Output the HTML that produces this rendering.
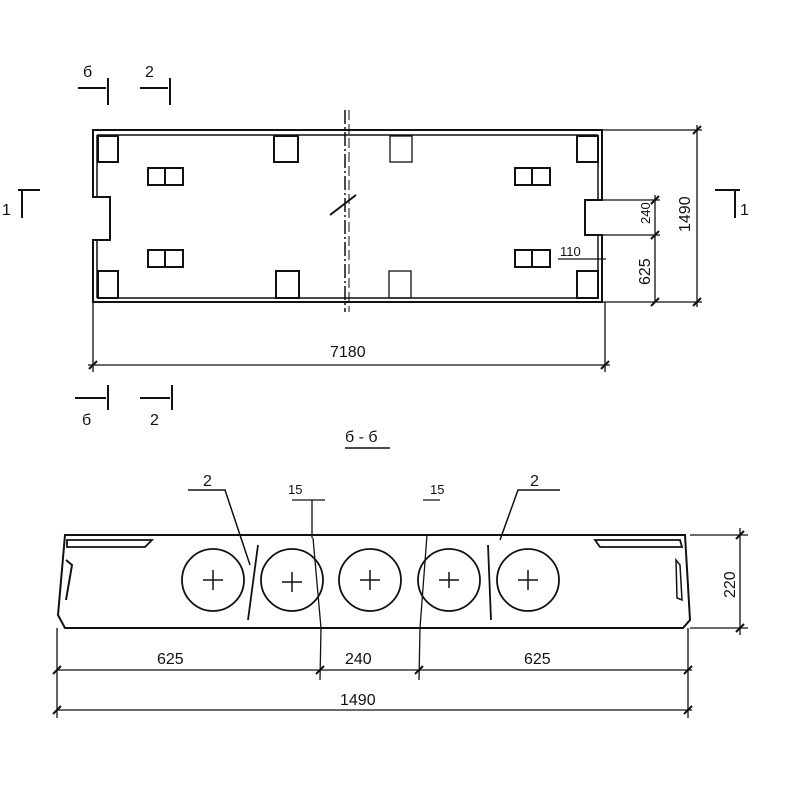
<!DOCTYPE html>
<html><head><meta charset="utf-8"><style>body{margin:0;background:#fff}svg{display:block}text{font-family:"Liberation Sans",sans-serif;fill:#111}</style></head><body>
<svg width="800" height="800" viewBox="0 0 800 800" xmlns="http://www.w3.org/2000/svg">
<g stroke="#111" fill="none" stroke-width="2">
<path d="M93 130 H602 V200 H585 V235 H602 V302 H93 V240 H110 V197 H93 Z"/>
<path d="M97 135 H598 M97 298 H598" stroke-width="1.5"/>
<path d="M97 135 V197 M97 240 V298 M598 135 V200 M598 235 V298" stroke-width="1.5"/>
<rect x="98" y="136" width="20" height="26"/><rect x="274" y="136" width="24" height="26"/>
<rect x="390" y="136" width="22" height="26" stroke-width="1.3"/><rect x="577" y="136" width="21" height="26"/>
<rect x="98" y="271" width="20" height="27"/><rect x="276" y="271" width="23" height="27"/>
<rect x="389" y="271" width="22" height="27" stroke-width="1.3"/><rect x="577" y="271" width="21" height="27"/>
<rect x="148" y="168" width="35" height="17"/><line x1="165" y1="168" x2="165" y2="185"/>
<rect x="148" y="250" width="35" height="17"/><line x1="165" y1="250" x2="165" y2="267"/>
<rect x="515" y="168" width="35" height="17"/><line x1="532" y1="168" x2="532" y2="185"/>
<rect x="515" y="250" width="35" height="17"/><line x1="532" y1="250" x2="532" y2="267"/>
<line x1="345" y1="110" x2="345" y2="312" stroke-width="1.5" stroke-dasharray="14 3 2 3"/>
<line x1="349" y1="110" x2="349" y2="312" stroke-width="1" stroke-dasharray="10 4"/>
<line x1="330" y1="215" x2="356" y2="195"/>
<line x1="93" y1="302" x2="93" y2="372" stroke-width="1.3"/><line x1="605" y1="302" x2="605" y2="372" stroke-width="1.3"/>
<line x1="88" y1="365" x2="610" y2="365" stroke-width="1.3"/>
<line x1="89" y1="369" x2="97" y2="361"/><line x1="601" y1="369" x2="609" y2="361"/>
<line x1="602" y1="130" x2="702" y2="130" stroke-width="1.3"/><line x1="602" y1="302" x2="702" y2="302" stroke-width="1.3"/>
<line x1="697" y1="125" x2="697" y2="307" stroke-width="1.3"/>
<line x1="693" y1="134" x2="701" y2="126"/><line x1="693" y1="306" x2="701" y2="298"/>
<line x1="602" y1="200" x2="660" y2="200" stroke-width="1.3"/><line x1="602" y1="235" x2="660" y2="235" stroke-width="1.3"/>
<line x1="655" y1="195" x2="655" y2="302" stroke-width="1.3"/>
<line x1="651" y1="204" x2="659" y2="196"/><line x1="651" y1="239" x2="659" y2="231"/><line x1="651" y1="306" x2="659" y2="298"/>
<line x1="558" y1="259" x2="606" y2="259" stroke-width="1.3"/>
<path d="M78 88 H106 M108 78 V105 M140 88 H168 M170 78 V105"/>
<path d="M75 398 H106 M108 385 V410 M140 398 H170 M172 385 V410"/>
<path d="M18 190 H40 M22 190 V218 M715 190 H740 M735 190 V218"/>
<line x1="345" y1="448" x2="390" y2="448" stroke-width="1.5"/>
<path d="M65 535 H685 L690 620 L683 628 H65 L58 615 Z"/>
<path d="M67 547 H145 L152 540 H67 Z M595 540 H680 L682 547 H600 Z" stroke-width="1.8"/>
<path d="M66 560 L72 565 L66 600" /><path d="M676 560 L680 565 L682 600 L677 598 Z" stroke-width="1.5"/>
<g stroke-width="1.8">
<circle cx="213" cy="580" r="31"/><circle cx="292" cy="580" r="31"/><circle cx="370" cy="580" r="31"/><circle cx="449" cy="580" r="31"/><circle cx="528" cy="580" r="31"/>
</g>
<path d="M203 580 H223 M213 570 V590 M282 582 H302 M292 572 V592 M360 580 H380 M370 570 V590 M439 580 H459 M449 572 V588 M518 580 H538 M528 570 V590" stroke-width="1.5"/>
<path d="M258 545 L248 620 M488 545 L491 620" stroke-width="1.8"/>
<path d="M188 490 H225 L250 565 M560 490 H518 L500 540" stroke-width="1.5"/>
<path d="M292 500 H325 M312 500 V538 M313 538 L321 628 L320 680 M423 500 H440 M427 535 L420 628 L419 680" stroke-width="1.3"/>
<line x1="57" y1="628" x2="57" y2="718" stroke-width="1.3"/><line x1="688" y1="628" x2="688" y2="718" stroke-width="1.3"/>
<line x1="57" y1="670" x2="692" y2="670" stroke-width="1.3"/><line x1="57" y1="710" x2="692" y2="710" stroke-width="1.3"/>
<path d="M53 674 L61 666 M316 674 L324 666 M415 674 L423 666 M684 674 L692 666 M53 714 L61 706 M684 714 L692 706"/>
<line x1="690" y1="535" x2="748" y2="535" stroke-width="1.3"/><line x1="690" y1="628" x2="748" y2="628" stroke-width="1.3"/>
<line x1="740" y1="528" x2="740" y2="635" stroke-width="1.3"/>
<path d="M736 539 L744 531 M736 632 L744 624"/>
</g>
<g font-size="16">
<text x="83" y="77">б</text><text x="145" y="77">2</text>
<text x="82" y="425">б</text><text x="150" y="425">2</text>
<text x="2" y="215">1</text><text x="740" y="215">1</text>
<text x="330" y="357">7180</text>
<text x="345" y="442">б - б</text>
<text x="203" y="486">2</text><text x="530" y="486">2</text>
<text x="288" y="494" font-size="13">15</text><text x="430" y="494" font-size="13">15</text>
<text x="560" y="256" font-size="13">110</text>
<text x="157" y="664">625</text><text x="345" y="664">240</text><text x="524" y="664">625</text>
<text x="340" y="705">1490</text>
<text transform="translate(690,232) rotate(-90)">1490</text>
<text transform="translate(650,224) rotate(-90)" font-size="13">240</text>
<text transform="translate(650,285) rotate(-90)">625</text>
<text transform="translate(735,598) rotate(-90)">220</text>
</g>
</svg>
</body></html>
